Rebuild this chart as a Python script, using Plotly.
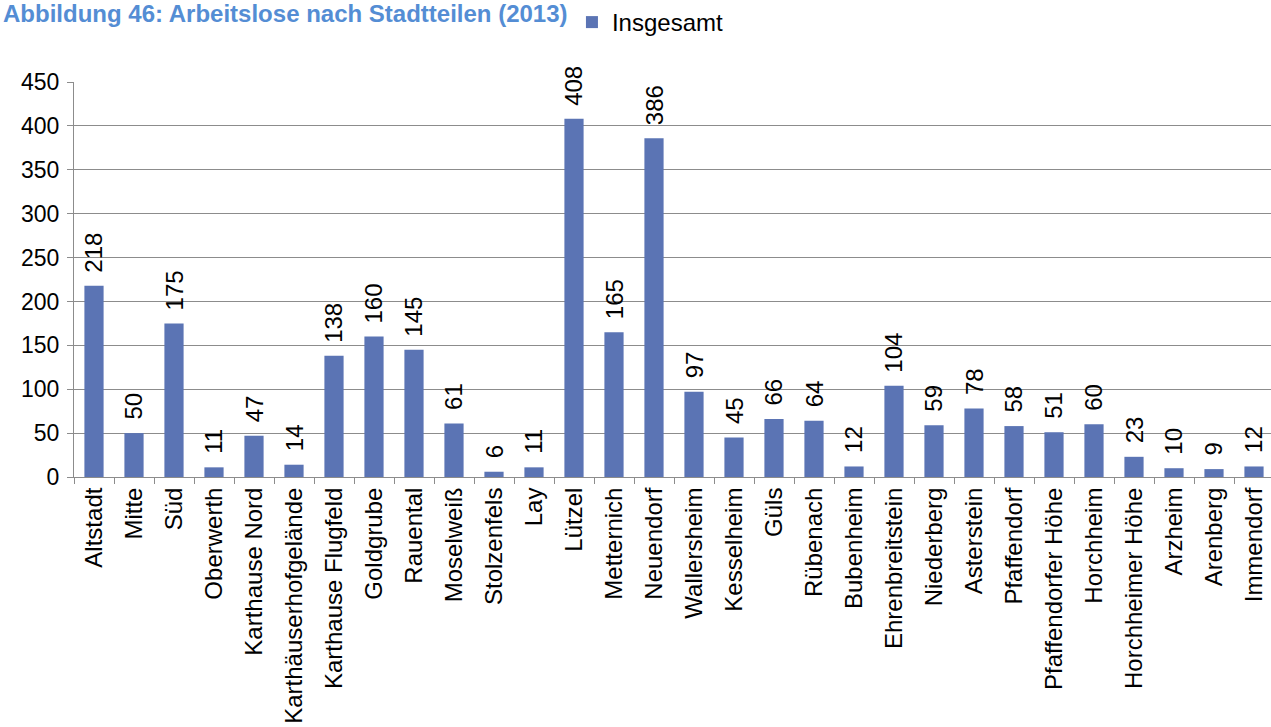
import plotly.graph_objects as go

categories = ["Altstadt", "Mitte", "Süd", "Oberwerth", "Karthause Nord", "Karthäuserhofgelände",
              "Karthause Flugfeld", "Goldgrube", "Rauental", "Moselweiß", "Stolzenfels", "Lay",
              "Lützel", "Metternich", "Neuendorf", "Wallersheim", "Kesselheim", "Güls", "Rübenach",
              "Bubenheim", "Ehrenbreitstein", "Niederberg", "Asterstein", "Pfaffendorf",
              "Pfaffendorfer Höhe", "Horchheim", "Horchheimer Höhe", "Arzheim", "Arenberg", "Immendorf"]
values = [218, 50, 175, 11, 47, 14, 138, 160, 145, 61, 6, 11, 408, 165, 386, 97, 45, 66, 64, 12,
          104, 59, 78, 58, 51, 60, 23, 10, 9, 12]
series_name = "Insgesamt"
title_text = "Abbildung 46: Arbeitslose nach Stadtteilen (2013)"
y_ticks = [0, 50, 100, 150, 200, 250, 300, 350, 400, 450]

FONT = "Liberation Sans, Arial, sans-serif"
BAR = "#5B74B4"
GRID = "#8C8C8C"

fig = go.Figure()
fig.add_trace(go.Bar(x=categories, y=values, name=series_name, marker=dict(color=BAR, line=dict(width=0)),
                     width=0.48, showlegend=True))

annotations = []
for c, v in zip(categories, values):
    annotations.append(dict(x=c, y=v, xref="x", yref="y", text=str(v), textangle=-90,
                            showarrow=False, yanchor="bottom", xanchor="center", yshift=11,
                            font=dict(family=FONT, size=24, color="#000000")))
annotations.append(dict(x=0, y=1, xref="paper", yref="paper", text="<b>" + title_text + "</b>",
                        showarrow=False, xanchor="left", yanchor="top", xshift=-73, yshift=84,
                        font=dict(family=FONT, size=24, color="#548DD4")))

fig.update_layout(
    width=1271, height=727,
    margin=dict(l=74, r=0, t=82, b=250),
    paper_bgcolor="white", plot_bgcolor="white",
    font=dict(family=FONT, size=24, color="#000000"),
    showlegend=True,
    legend=dict(orientation="h", x=0.416, xanchor="left", y=1.152, yanchor="middle", yref="paper",
                font=dict(family=FONT, size=24), itemwidth=30,
                bgcolor="rgba(0,0,0,0)"),
    annotations=annotations,
)
fig.update_xaxes(range=[-0.5, 29.425], tickangle=-90, ticks="outside", tickson="boundaries",
                 ticklen=6, tickcolor=GRID, showline=True, linecolor=GRID, linewidth=1,
                 showgrid=False, tickfont=dict(family=FONT, size=24), automargin=False)
fig.update_yaxes(range=[0, 450], tickvals=y_ticks, ticks="outside", ticklen=6, tickcolor=GRID,
                 showline=True, linecolor=GRID, linewidth=1, showgrid=True, gridcolor=GRID,
                 gridwidth=1, zeroline=False, tickfont=dict(family=FONT, size=23), ticklabelstandoff=3,
                 automargin=False)

fig.write_html("out.html", config={"displayModeBar": False},
               post_script="document.body.style.margin='0';document.body.style.overflow='hidden';")
